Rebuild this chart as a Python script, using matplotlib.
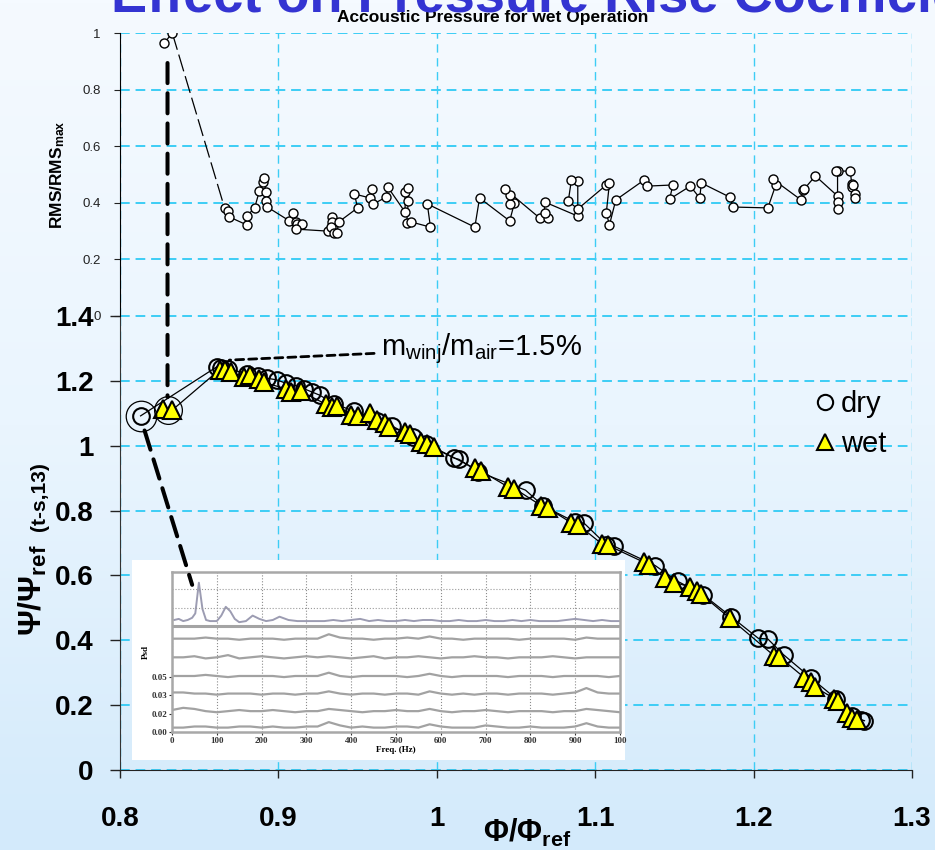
import numpy as np
import matplotlib
matplotlib.use('Agg')
import matplotlib.pyplot as plt
from matplotlib.colors import LinearSegmentedColormap
from matplotlib.lines import Line2D
from matplotlib.patches import ConnectionPatch

plt.rcParams['font.family'] = ['Liberation Sans', 'DejaVu Sans']
plt.rcParams['mathtext.fontset'] = 'custom'
plt.rcParams['mathtext.rm'] = 'Liberation Sans'
plt.rcParams['mathtext.bf'] = 'Liberation Sans:bold'
plt.rcParams['mathtext.it'] = 'Liberation Sans:italic'

# ---- data ----
# pressure rise coefficient, dry operation
dry_x = [0.813, 0.861, 0.864, 0.868, 0.880, 0.887, 0.893, 0.899, 0.905, 0.911, 0.916, 0.921, 0.926,
         0.935, 0.948, 0.962, 0.972, 0.985, 0.993, 1.011, 1.014, 1.026, 1.056, 1.067, 1.087, 1.093,
         1.107, 1.112, 1.138, 1.152, 1.168, 1.186, 1.203, 1.209, 1.219, 1.236, 1.252, 1.262, 1.268, 1.270]
dry_y = [1.092, 1.243, 1.240, 1.238, 1.222, 1.215, 1.208, 1.203, 1.192, 1.185, 1.176, 1.166, 1.156,
         1.130, 1.106, 1.076, 1.060, 1.027, 1.005, 0.962, 0.958, 0.920, 0.863, 0.815, 0.765, 0.761,
         0.695, 0.690, 0.630, 0.582, 0.541, 0.472, 0.406, 0.404, 0.355, 0.285, 0.220, 0.168, 0.155, 0.152]

# wet operation
wet_x = [0.827, 0.833, 0.863, 0.866, 0.870, 0.878, 0.882, 0.888, 0.891, 0.905, 0.908, 0.914, 0.930,
         0.934, 0.937, 0.946, 0.950, 0.958, 0.962, 0.967, 0.970, 0.980, 0.983, 0.990, 0.994, 0.998,
         1.024, 1.028, 1.045, 1.049, 1.066, 1.070, 1.085, 1.089, 1.104, 1.108, 1.131, 1.134, 1.144,
         1.150, 1.160, 1.164, 1.167, 1.185, 1.213, 1.216, 1.232, 1.236, 1.239, 1.251, 1.253, 1.259,
         1.262, 1.265]
wet_y = [1.113, 1.110, 1.235, 1.232, 1.228, 1.212, 1.218, 1.205, 1.195, 1.175, 1.166, 1.168, 1.128,
         1.120, 1.124, 1.096, 1.092, 1.102, 1.080, 1.070, 1.058, 1.042, 1.035, 1.012, 1.005, 0.995,
         0.930, 0.922, 0.873, 0.868, 0.815, 0.808, 0.762, 0.757, 0.698, 0.693, 0.640, 0.632, 0.592,
         0.578, 0.565, 0.552, 0.542, 0.468, 0.352, 0.350, 0.285, 0.270, 0.255, 0.220, 0.212, 0.175,
         0.160, 0.155]

# acoustic pressure RMS/RMSmax (wet operation)
rms_x = [0.828, 0.833, 0.866, 0.868, 0.869, 0.880, 0.880, 0.885, 0.888, 0.890, 0.891, 0.892, 0.892,
         0.893, 0.907, 0.909, 0.911, 0.912, 0.915, 0.911, 0.931, 0.934, 0.934, 0.933, 0.935, 0.937,
         0.938, 0.950, 0.948, 0.958, 0.959, 0.960, 0.968, 0.969, 0.980, 0.980, 0.982, 0.982, 0.981,
         0.984, 0.996, 0.994, 1.024, 1.027, 1.046, 1.049, 1.046, 1.046, 1.043, 1.065, 1.070, 1.068,
         1.068, 1.089, 1.089, 1.085, 1.083, 1.089, 1.107, 1.109, 1.107, 1.109, 1.113, 1.131, 1.133,
         1.149, 1.147, 1.160, 1.166, 1.167, 1.185, 1.187, 1.209, 1.214, 1.212, 1.230, 1.231, 1.232,
         1.239, 1.253, 1.253, 1.253, 1.253, 1.252, 1.261, 1.262, 1.262, 1.263, 1.264, 1.264]
rms_y = [0.965, 1.000, 0.382, 0.371, 0.350, 0.322, 0.353, 0.382, 0.442, 0.473, 0.488, 0.438, 0.406,
         0.385, 0.336, 0.364, 0.332, 0.325, 0.325, 0.307, 0.300, 0.350, 0.332, 0.314, 0.293, 0.293,
         0.332, 0.382, 0.431, 0.417, 0.449, 0.396, 0.420, 0.456, 0.367, 0.438, 0.452, 0.406, 0.329,
         0.332, 0.314, 0.396, 0.314, 0.417, 0.336, 0.399, 0.396, 0.428, 0.449, 0.346, 0.346, 0.364,
         0.403, 0.353, 0.477, 0.481, 0.406, 0.378, 0.463, 0.470, 0.364, 0.322, 0.410, 0.481, 0.459,
         0.463, 0.413, 0.459, 0.417, 0.470, 0.420, 0.385, 0.382, 0.463, 0.484, 0.410, 0.445, 0.449,
         0.495, 0.424, 0.403, 0.378, 0.512, 0.512, 0.512, 0.466, 0.456, 0.463, 0.431, 0.417]

# PSD inset (values in 1e-3), lower traces sampled every 25 Hz
psd_f = np.arange(0, 1001, 25)
psd_a = [4, 4, 5, 5, 4, 4, 5, 5, 4, 5, 4, 4, 5, 5, 9, 6, 4, 5, 4, 4, 5, 5, 4, 7, 5, 4, 4, 4, 6, 5,
         4, 4, 5, 4, 4, 4, 5, 8, 5, 4, 4]
psd_b = [20, 22, 21, 19, 18, 19, 20, 19, 19, 20, 19, 18, 19, 19, 21, 20, 19, 18, 19, 19, 20, 19, 19,
         21, 19, 18, 19, 19, 20, 19, 18, 19, 19, 19, 18, 19, 19, 21, 20, 19, 18]
psd_c = [36, 36, 35, 35, 34, 35, 35, 35, 34, 35, 35, 34, 35, 35, 37, 35, 34, 35, 35, 34, 35, 35, 34,
         37, 35, 34, 35, 34, 35, 35, 34, 35, 35, 35, 34, 35, 36, 40, 36, 35, 35]
psd_d = [51, 51, 51, 52, 51, 50, 51, 51, 51, 51, 50, 51, 51, 51, 54, 51, 50, 51, 51, 51, 51, 50, 51,
         53, 51, 50, 51, 51, 51, 51, 50, 51, 51, 51, 50, 51, 51, 51, 51, 50, 51]
psd_e = [68, 68, 69, 67, 68, 70, 67, 68, 69, 68, 67, 68, 69, 68, 69, 68, 67, 68, 69, 67, 68, 68, 69,
         68, 67, 68, 68, 69, 68, 68, 67, 68, 68, 68, 69, 68, 67, 68, 68, 68, 68]
psd_g = [85, 85, 85, 86, 85, 85, 84, 85, 85, 85, 84, 85, 85, 85, 89, 86, 85, 85, 84, 85, 85, 86, 85,
         87, 85, 85, 84, 85, 85, 85, 85, 84, 85, 85, 85, 85, 84, 86, 85, 85, 85]
psd_top_f = [5, 15, 25, 35, 45, 52, 60, 68, 76, 85, 100, 110, 120, 130, 140, 150, 165, 180, 195, 210,
             225, 240, 260, 280, 300, 320, 340, 360, 380, 400, 420, 440, 460, 480, 500, 520, 540, 560,
             580, 600, 620, 640, 660, 680, 700, 720, 740, 760, 780, 800, 820, 840, 860, 880, 900, 920,
             940, 960, 980, 1000]
psd_top = [102, 103, 101, 102, 104, 108, 136, 112, 102, 101, 101, 106, 114, 110, 103, 100, 101, 106,
           103, 101, 102, 105, 102, 101, 101, 101, 101, 102, 101, 102, 103, 101, 102, 101, 101, 102,
           101, 102, 102, 101, 101, 102, 101, 101, 102, 101, 101, 102, 101, 102, 101, 101, 101, 102,
           103, 102, 101, 102, 101, 101]
psd_xticks = [0, 100, 200, 300, 400, 500, 600, 700, 800, 900, 1000]
psd_xlabels = ['0', '100', '200', '300', '400', '500', '600', '700', '800', '900', '100']
psd_yticks = [0.0, 0.0167, 0.0333, 0.05]
psd_ylabels = ['0.00', '0.02', '0.03', '0.05']

x_ticks = [0.8, 0.9, 1.0, 1.1, 1.2, 1.3]
x_labels = ['0.8', '0.9', '1', '1.1', '1.2', '1.3']
y_ticks = [0, 0.2, 0.4, 0.6, 0.8, 1.0, 1.2, 1.4]
y_labels = ['0', '0.2', '0.4', '0.6', '0.8', '1', '1.2', '1.4']
rms_ticks = [0, 0.2, 0.4, 0.6, 0.8, 1.0]
rms_labels = ['0', '0.2', '0.4', '0.6', '0.8', '1']

W, H = 935, 850


def rect(x0, y0, x1, y1):
    # pixel box (top-left origin) -> figure fraction
    return [x0 / W, 1 - y1 / H, (x1 - x0) / W, (y1 - y0) / H]


fig = plt.figure(figsize=(9.35, 8.5), dpi=100)

# slide background gradient
bg = fig.add_axes([0, 0, 1, 1], zorder=-10)
cmap = LinearSegmentedColormap.from_list('slide', [(0, '#f5faff'), (0.5, '#eaf5fe'), (1, '#d3eafb')])
bg.imshow(np.linspace(0, 1, 256).reshape(-1, 1), aspect='auto', cmap=cmap, extent=[0, 1, 0, 1])
bg.axis('off')

grid_c = '#3dcdf5'

# ---- main chart ----
ax = fig.add_axes(rect(120, 316, 912, 770))
ax.set_facecolor('none')
ax.plot(dry_x, dry_y, color='k', lw=0.9, marker='o', ms=12, mfc='none', mec='k', mew=1.5, zorder=3)
ax.plot(wet_x, wet_y, color='k', lw=0.9, marker='^', ms=13.5, mfc='#ffff00', mec='k', mew=1.5, zorder=4)
ax.plot(dry_x[0], dry_y[0], marker='o', ms=22, mfc='none', mec='k', mew=0.9, zorder=5)
ax.plot(np.mean(wet_x[:2]), np.mean(wet_y[:2]), marker='o', ms=20, mfc='none', mec='k', mew=0.9, zorder=5)
ax.set_xlim(0.8, 1.3)
ax.set_ylim(0, 1.4)
ax.set_xticks(x_ticks)
ax.set_xticklabels(x_labels)
ax.set_yticks(y_ticks)
ax.set_yticklabels(y_labels)
ax.tick_params(axis='both', direction='out', colors='#222222', labelsize=20, width=1)
ax.tick_params(axis='y', length=7, pad=12)
ax.tick_params(axis='x', length=6, pad=20)
for lbl in ax.get_xticklabels() + ax.get_yticklabels():
    lbl.set_fontweight('bold')
    lbl.set_color('black')
ax.yaxis.grid(True, color=grid_c, ls=(0, (5, 3)), lw=1.4)
ax.xaxis.grid(True, color=grid_c, ls=(0, (6, 4)), lw=1.0)
ax.spines['top'].set_visible(False)
ax.spines['right'].set_visible(False)
ax.spines['left'].set_color('#333333')
ax.spines['bottom'].set_color('#222222')

ax.annotate(r'm$_{\mathrm{winj}}$/m$_{\mathrm{air}}$=1.5%', xy=(0.869, 1.264), xytext=(0.9648, 1.280),
            ha='left', va='baseline', fontsize=21,
            arrowprops=dict(arrowstyle='-', color='k', lw=2, ls=(0, (2.9, 1.8)), shrinkA=3, shrinkB=0))

handles = [Line2D([], [], ls='none', marker='o', ms=11, mfc='none', mec='k', mew=1.5),
           Line2D([], [], ls='none', marker='^', ms=12, mfc='#ffff00', mec='k', mew=1.5)]
ax.legend(handles, ['dry', 'wet'], loc='center left', bbox_to_anchor=(813 / W, 1 - 424 / H),
          bbox_transform=fig.transFigure, frameon=False, fontsize=21, handlelength=0.8,
          handletextpad=0.15, labelspacing=0.4, borderpad=0, borderaxespad=0)

# ---- acoustic pressure panel on top ----
ax_top = fig.add_axes(rect(120, 33, 912, 316))
ax_top.set_facecolor('none')
ax_top.plot(rms_x[:2], rms_y[:2], color='k', lw=0.9, zorder=3)
ax_top.plot(rms_x[1:3], rms_y[1:3], color='k', lw=0.9, ls=(0, (14, 4)), zorder=3)
ax_top.plot(rms_x[2:], rms_y[2:], color='k', lw=0.9, zorder=3)
ax_top.plot(rms_x, rms_y, ls='none', marker='o', ms=6.5, mfc='white', mec='k', mew=1.0, zorder=4)
ax_top.set_xlim(0.8, 1.3)
ax_top.set_ylim(0, 1)
ax_top.set_xticks(x_ticks)
ax_top.set_xticklabels([])
ax_top.set_yticks(rms_ticks)
ax_top.set_yticklabels(rms_labels)
ax_top.tick_params(axis='x', length=0)
ax_top.tick_params(axis='y', direction='out', length=4, pad=10, labelsize=9.5, colors='#222222')
ax_top.yaxis.grid(True, color=grid_c, ls=(0, (5, 3)), lw=1.4)
ax_top.xaxis.grid(True, color=grid_c, ls=(0, (6, 4)), lw=1.0)
for s in ['top', 'right', 'bottom']:
    ax_top.spines[s].set_visible(False)
ax_top.spines['left'].set_color('black')
ax_top.set_ylabel(r'RMS/RMS$_{\mathbf{max}}$', fontsize=12.5, fontweight='bold', labelpad=11)
ax_top.set_title('Accoustic Pressure for wet Operation', fontsize=12.5, fontweight='bold', pad=8,
                 x=(493 - 120) / 792)

# ---- spectrum inset ----
axb = fig.add_axes(rect(132, 560, 625, 760), zorder=2)
axb.set_facecolor('white')
axb.set_xticks([])
axb.set_yticks([])
for s in axb.spines.values():
    s.set_visible(False)

axp = fig.add_axes(rect(172, 572, 620, 732), zorder=3)
axp.set_facecolor('white')
axp.set_axisbelow(True)
axp.plot(psd_top_f, np.array(psd_top) / 1000, color='#9c9cb2', lw=1.4)
for tr in [psd_a, psd_b, psd_c, psd_d, psd_e, psd_g]:
    axp.plot(psd_f, np.array(tr) / 1000, color='#a2a2a2', lw=1.6)
axp.axhline(0.0964, color='#a4a4a4', lw=2.2)
for yv in [0.113, 0.130]:
    axp.axhline(yv, color='#9a9a9a', lw=0.8, ls=':')
axp.set_xlim(0, 1000)
axp.set_ylim(0, 0.1457)
axp.set_xticks(psd_xticks)
axp.set_xticklabels(psd_xlabels)
axp.set_yticks(psd_yticks)
axp.set_yticklabels(psd_ylabels)
axp.xaxis.grid(True, ls=':', color='#8c8c8c', lw=0.8)
axp.tick_params(labelsize=6.5, length=2, pad=1.5, colors='#333333')
for lbl in axp.get_xticklabels() + axp.get_yticklabels():
    lbl.set_fontfamily('Liberation Serif')
    lbl.set_fontweight('bold')
axp.set_xlabel('Freq. (Hz)', fontsize=6.5, family='Liberation Serif', weight='bold', labelpad=1)
axp.set_ylabel('Psd', fontsize=6.5, family='Liberation Serif', weight='bold', labelpad=1)
for s in axp.spines.values():
    s.set_color('#a8a8a8')
    s.set_linewidth(1.8)

# ---- thick dashed pointers ----
wx = np.mean(wet_x[:2])
con1 = ConnectionPatch(xyA=(wx, 0.894), coordsA='data', axesA=ax_top,
                       xyB=(wx, 1.15), coordsB='data', axesB=ax,
                       color='k', lw=2.9, ls=(0, (5, 2.5)), zorder=10)
fig.add_artist(con1)
con2 = ConnectionPatch(xyA=(dry_x[0] + 0.0025, dry_y[0] - 0.045), coordsA='data', axesA=ax,
                       xyB=(45, 0.134), coordsB='data', axesB=axp,
                       color='k', lw=2.9, ls=(0, (5, 2.5)), zorder=10)
fig.add_artist(con2)

# ---- axis labels and slide title ----
fig.text(33 / W, 1 - 590 / H, r'Ψ/Ψ$_{\mathbf{ref}}$', rotation=90, ha='center', va='center',
         fontsize=23, fontweight='bold')
fig.text(39 / W, 1 - 497 / H, '(t-s,13)', rotation=90, ha='center', va='center',
         fontsize=15, fontweight='bold')
fig.text(527 / W, 1 - 842 / H, r'Φ/Φ$_{\mathbf{ref}}$', ha='center', va='baseline',
         fontsize=22, fontweight='bold')
fig.text(111 / W, 1 - 12 / H, 'Effect on Pressure Rise Coefficient', ha='left', va='baseline',
         fontsize=39, fontweight='bold', color='#3434d2')

fig.savefig('out.png', dpi=100)
